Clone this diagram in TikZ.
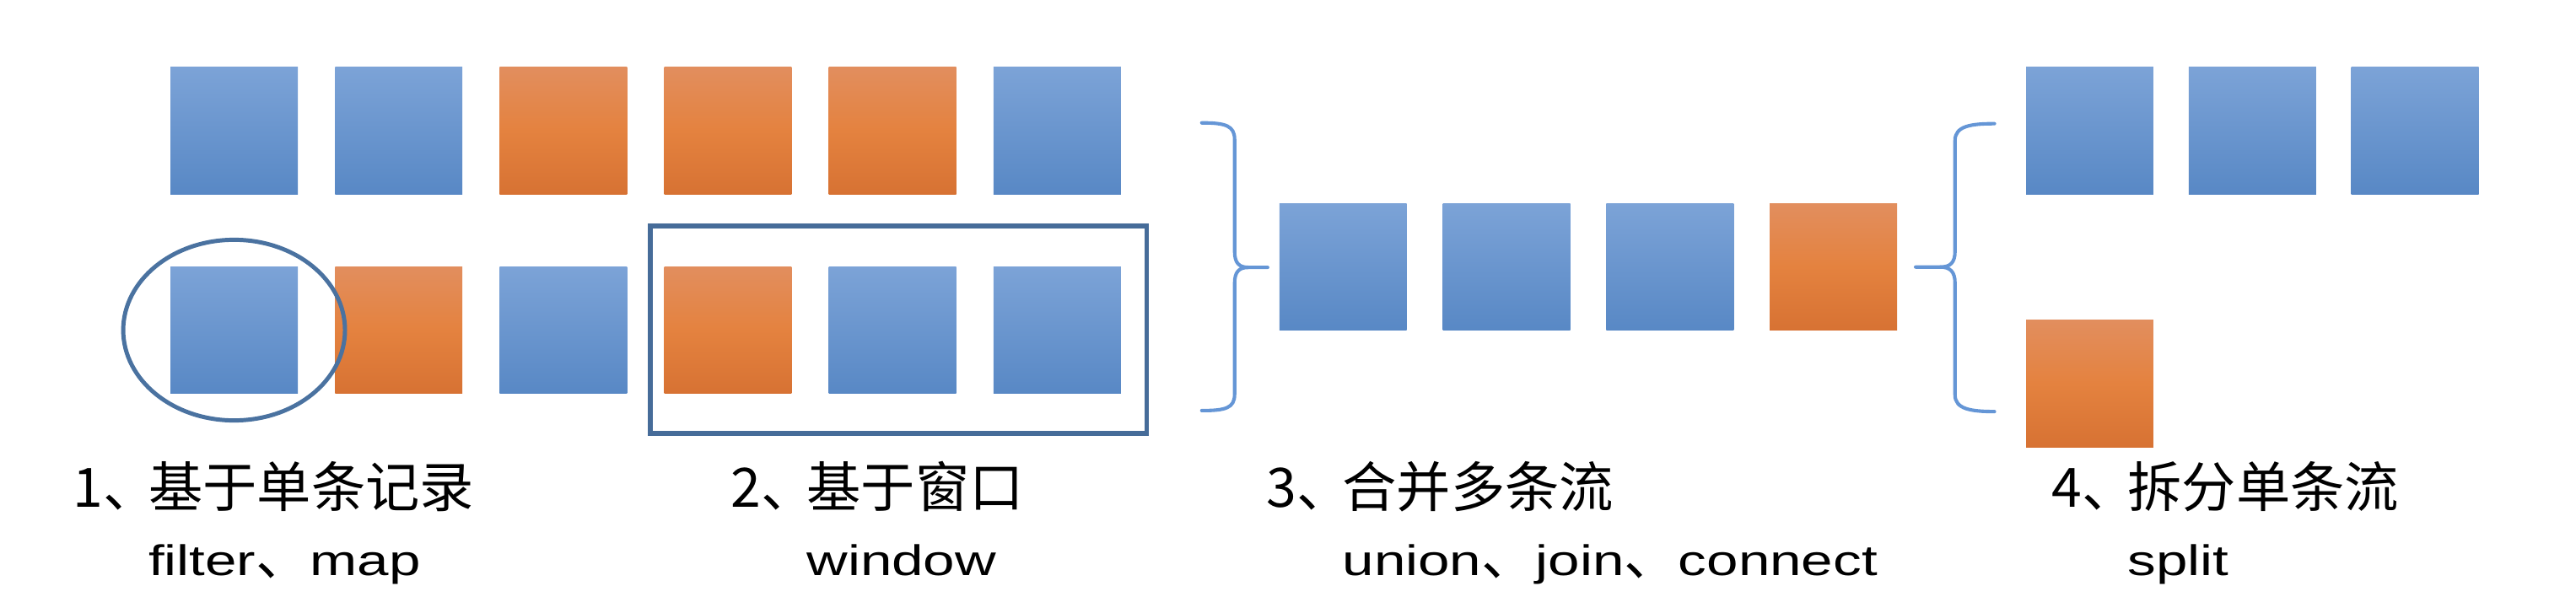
\documentclass[tikz,border=0pt]{standalone}
\usepackage{fontspec}
\setmainfont[FakeStretch=1.33]{Liberation Sans}
\newfontfamily\cjk{Noto Sans CJK SC}
\usepackage{tikz}
\usetikzlibrary{positioning}
\usepackage{xcolor}

\definecolor{boxbluetop}{HTML}{7CA3D7}
\definecolor{boxbluebot}{HTML}{5888C5}
\definecolor{boxorgtop}{HTML}{E28E5E}
\definecolor{boxorgmid}{HTML}{E4823F}
\definecolor{boxorgbot}{HTML}{D77233}
\definecolor{ringcol}{HTML}{4A72A0}
\definecolor{wincol}{HTML}{466C99}
\definecolor{bracecol}{HTML}{6596D6}

\newcommand\opfont{\rmfamily\fontsize{14.8pt}{23.6pt}\selectfont}
\newcommand\dun{{\cjk\fontsize{18.8pt}{23.6pt}\selectfont 、}}

\tikzset{
  blk/.style={rectangle,inner sep=0pt,minimum width=1.55cm,minimum height=1.55cm},
  bb/.style={blk,top color=boxbluetop,bottom color=boxbluebot},
  ob/.style={blk,top color=boxorgtop,bottom color=boxorgbot,middle color=boxorgmid},
  brace/.style={draw=bracecol,line width=1.2pt,line cap=round,line join=round},
  lab/.style={anchor=base west,inner sep=0pt,font=\cjk\fontsize{18.8pt}{23.6pt}\selectfont}
}

\begin{document}
\begin{tikzpicture}[x=0.02cm,y=-0.02cm]
  \useasboundingbox (0,0) rectangle (1568,373);
  % 两条输入流
  \foreach \c [count=\i] in {bb,bb,ob,ob,ob,bb}
    \node[\c] (a\i) at ({142.5+100.2*(\i-1)},79.5) {};
  \foreach \c [count=\i] in {bb,ob,bb,ob,bb,bb}
    \node[\c] (b\i) at ({142.5+100.2*(\i-1)},201) {};
  % 单条记录
  \draw[ringcol,line width=1.45pt] (b1) ellipse [x radius=67.5,y radius=55];
  % 窗口
  \draw[wincol,line width=1.7pt] (396,137.8) rectangle (698,264);
  % 合并
  \draw[brace] (731.5,74.8) .. controls (746,74.8) and (751.5,76.5) .. (751.5,85) -- (751.5,153)
    .. controls (751.5,160) and (754,162.8) .. (760,162.8) -- (771.6,162.8);
  \draw[brace] (760,162.8) .. controls (754,162.8) and (751.5,165.6) .. (751.5,172.6) -- (751.5,240)
    .. controls (751.5,248.5) and (746,250) .. (731.5,250);
  \foreach \c [count=\i] in {bb,bb,bb,ob}
    \node[\c] (m\i) at ({817.5+99.5*(\i-1)},162.5) {};
  % 拆分
  \draw[brace] (1214,75.3) .. controls (1199.5,75.3) and (1190,76.8) .. (1190,85.5) -- (1190,153)
    .. controls (1190,160) and (1187,162.6) .. (1181,162.6) -- (1166,162.6);
  \draw[brace] (1181,162.6) .. controls (1187,162.6) and (1190,165.4) .. (1190,172.4) -- (1190,240.5)
    .. controls (1190,249) and (1199.5,250.6) .. (1214,250.6);
  \foreach \i in {1,2,3}
    \node[bb] (s\i) at ({1272+99*(\i-1)},79.5) {};
  \node[ob] (s4) at (1272,233.6) {};
  % 说明文字
  \node[lab] (t1) at (44,309) {\begin{tabular}[t]{@{}l@{}l@{}}1、\kern-3pt&基于单条记录\\ &\opfont filter\dun map\end{tabular}};
  \node[lab] (t2) at (444.6,309) {\begin{tabular}[t]{@{}l@{}l@{}}2、\kern-3pt&基于窗口\\ &\opfont window\end{tabular}};
  \node[lab] (t3) at (770.7,309) {\begin{tabular}[t]{@{}l@{}l@{}}3、\kern-3pt&合并多条流\\ &\opfont union\dun join\dun connect\end{tabular}};
  \node[lab] (t4) at (1248.6,309) {\begin{tabular}[t]{@{}l@{}l@{}}4、\kern-3pt&拆分单条流\\ &\opfont split\end{tabular}};
\end{tikzpicture}
\end{document}
